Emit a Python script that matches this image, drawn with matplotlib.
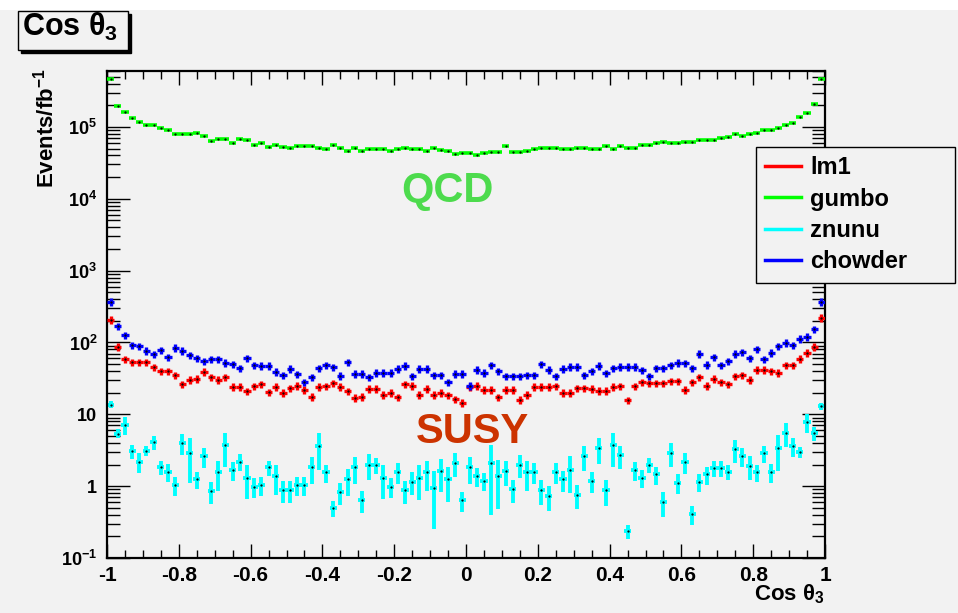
#!/usr/bin/env python3
"""Cos theta_3 distribution, ROOT-style log histogram (QCD vs SUSY samples)."""
import numpy as np
import matplotlib
matplotlib.use("Agg")
import matplotlib.pyplot as plt
from matplotlib.lines import Line2D
from matplotlib.patches import Rectangle
from matplotlib.ticker import MultipleLocator, FixedLocator, FixedFormatter, LogLocator, NullFormatter

# 100 bins on [-1, 1]
N_BINS = 100
X_MIN, X_MAX = -1.0, 1.0

gumbo = [4.6e5, 1.96e5, 1.61e5, 1.34e5, 1.16e5, 1.05e5, 1.05e5, 9.5e4, 9.0e4, 7.9e4,
         7.9e4, 7.9e4, 8.3e4, 7.45e4, 6.4e4, 6.8e4, 6.8e4, 5.9e4, 6.8e4, 6.55e4,
         5.6e4, 6.0e4, 5.3e4, 5.6e4, 5.3e4, 5.06e4, 5.35e4, 5.35e4, 5.35e4, 5.06e4,
         4.85e4, 5.6e4, 5.06e4, 4.55e4, 5.06e4, 4.65e4, 4.85e4, 4.85e4, 4.85e4, 4.65e4,
         4.85e4, 5.1e4, 4.9e4, 4.9e4, 4.65e4, 5.1e4, 4.75e4, 4.55e4, 4.2e4, 4.35e4,
         4.35e4, 4.0e4, 4.27e4, 4.45e4, 4.45e4, 5.4e4, 4.45e4, 4.45e4, 4.65e4, 4.85e4,
         5.1e4, 5.1e4, 5.1e4, 4.85e4, 4.85e4, 5.1e4, 5.1e4, 4.85e4, 4.85e4, 5.4e4,
         4.85e4, 5.4e4, 5.1e4, 5.1e4, 5.6e4, 5.6e4, 5.9e4, 6.2e4, 5.9e4, 5.9e4,
         6.2e4, 6.2e4, 6.55e4, 6.55e4, 6.55e4, 7.0e4, 7.3e4, 7.9e4, 7.45e4, 7.9e4,
         8.3e4, 9.0e4, 9.0e4, 9.6e4, 1.05e5, 1.12e5, 1.39e5, 1.55e5, 2.09e5, 4.6e5]

lm1 = [206, 87, 58, 53, 53, 53, 45, 40, 40, 35,
       26, 30, 31, 39, 33, 30, 33, 24, 24, 21,
       24.5, 26, 20.4, 24, 19.8, 23, 25, 22, 17.4, 24,
       24.5, 27, 24, 21, 16.9, 17.4, 22.7, 22.7, 18.7, 19.8,
       17.2, 26, 25, 18.7, 22.7, 18.7, 20, 18.4, 16.3, 14.4,
       24, 25, 22, 22, 17.2, 22, 22, 16, 18.7, 24,
       24, 24, 24.5, 19.8, 19.8, 23, 23, 22.7, 21.3, 21.3,
       24, 24.5, 15.6, 24.5, 28, 27, 27, 27, 29, 29,
       22, 28, 33, 25, 31, 28, 26, 34, 35, 30,
       42, 42, 40, 37.7, 48, 48, 59, 72, 87, 221]

chowder = [371, 167, 125, 92, 88, 77, 68, 78, 62.5, 84,
           77, 66, 60, 55, 58, 58, 52, 50, 44, 60,
           48, 47, 47, 39, 35, 43, 36, 28, 33, 44,
           48, 45, 34.5, 53, 36.5, 36.5, 33, 37.7, 37.7, 37.7,
           43, 47, 34, 43, 43, 35, 35, 28, 36.5, 36.5,
           25, 42, 37.7, 48, 40, 34, 34, 34, 35, 35,
           50, 42, 34, 43, 46, 46, 35, 40, 47, 37,
           44, 46, 46, 46, 41, 34, 44, 44, 48, 52,
           51, 44, 69.5, 49, 62.5, 48, 55, 69.5, 73, 60,
           80, 58, 72, 89, 99, 91, 113, 120, 152, 371]

znunu = [13.6, 5.4, 7.1, 3.1, 2.2, 3.1, 4.1, 1.83, 1.59, 1.03,
         4.0, 2.9, 1.24, 2.6, 0.85, 1.55, 3.7, 1.67, 2.2, 1.31,
         0.98, 1.03, 1.83, 1.38, 0.88, 0.88, 1.03, 1.03, 1.83, 3.6,
         1.55, 0.50, 0.82, 1.24, 1.83, 0.64, 2.0, 2.0, 1.31, 0.98,
         1.59, 0.88, 1.15, 1.31, 1.55, 0.93, 1.62, 1.24, 2.1, 0.64,
         1.83, 1.38, 1.19, 2.1, 1.38, 1.62, 0.90, 2.0, 1.55, 1.59,
         0.88, 0.72, 1.59, 1.24, 1.7, 0.76, 2.6, 1.19, 3.4, 0.88,
         3.7, 2.7, 0.235, 1.67, 1.31, 2.0, 1.46, 0.60, 2.9, 1.12,
         2.2, 0.41, 1.15, 1.46, 1.8, 1.8, 1.59, 3.25, 2.6, 1.93,
         1.55, 2.9, 1.55, 3.4, 5.5, 3.6, 3.0, 7.8, 5.5, 13.0]

znunu_err = [1.5, 0.75, 2.0, 0.7, 0.69, 0.49, 0.9, 0.41, 0.43, 0.30,
             1.25, 1.8, 0.32, 0.79, 0.29, 0.69, 1.87, 0.49, 0.6, 0.65,
             0.30, 0.30, 0.44, 0.62, 0.30, 0.30, 0.30, 0.30, 0.75, 1.9,
             0.44, 0.13, 0.28, 0.5, 0.75, 0.22, 0.78, 0.5, 0.65, 0.3,
             0.53, 0.31, 0.4, 0.67, 0.68, 0.68, 0.8, 0.63, 0.75, 0.2,
             0.75, 0.4, 0.33, 1.7, 0.9, 0.62, 0.32, 0.71, 0.68, 0.52,
             0.34, 0.27, 0.53, 0.41, 0.89, 0.28, 0.98, 0.39, 1.35, 0.35,
             1.87, 0.94, 0.05, 0.49, 0.38, 0.47, 0.41, 0.23, 1.04, 0.35,
             0.73, 0.12, 0.32, 0.41, 0.45, 0.45, 0.38, 1.18, 0.76, 0.71,
             0.42, 0.77, 0.46, 1.8, 2.0, 1.06, 0.53, 2.3, 1.2, 1.5]

REL_ERR = 0.12          # red / blue bars are short, roughly +-12%

Y_TICKS = [0.1, 1, 10, 100, 1e3, 1e4, 1e5]
Y_LABELS = ["10$^{-1}$", "1", "10", "10$^{2}$", "10$^{3}$", "10$^{4}$", "10$^{5}$"]
X_TICKS = [-1, -0.8, -0.6, -0.4, -0.2, 0, 0.2, 0.4, 0.6, 0.8, 1]
X_LABELS = ["-1", "-0.8", "-0.6", "-0.4", "-0.2", "0", "0.2", "0.4", "0.6", "0.8", "1"]

BG = "#f2f2f2"
plt.rcParams.update({
    "font.family": ["Liberation Sans", "DejaVu Sans"],
    "font.weight": "bold",
    "mathtext.fontset": "custom",
    "mathtext.rm": "Liberation Sans:bold",
    "mathtext.bf": "Liberation Sans:bold",
    "mathtext.it": "Liberation Sans:bold",
    "mathtext.default": "bf",
    "axes.unicode_minus": False,
})

edges = np.linspace(X_MIN, X_MAX, N_BINS + 1)
centers = 0.5 * (edges[:-1] + edges[1:])
half = 0.5 * (edges[1] - edges[0])

fig = plt.figure(figsize=(9.58, 6.13), dpi=100, facecolor=BG)
ax = fig.add_axes([0.1117, 0.0897, 0.7495, 0.7945])
ax.set_facecolor(BG)

# white strip at the very top (slide header cut off)
fig.patches.append(Rectangle((0, 603 / 613), 1, 10 / 613, transform=fig.transFigure,
                             facecolor="white", edgecolor="none", zorder=0))


def hist(vals, color, yerr=None, lw=1.8, z=3):
    ax.errorbar(centers, vals, xerr=half, yerr=yerr, fmt=".", ms=1.2,
                mfc="k", mec="k", ecolor=color, elinewidth=lw, capsize=0, zorder=z)


g = np.array(gumbo)
hist(g, "#00ff00", lw=2.6)

z = np.array(znunu)
ze = np.array(znunu_err)
hist(z, "#00ffff", yerr=[np.minimum(ze, z * 0.95), ze], lw=2.8, z=2)

r = np.array(lm1)
hist(r, "#ff0000", yerr=r * REL_ERR, lw=2.4)
b = np.array(chowder)
hist(b, "#0000ff", yerr=b * REL_ERR, lw=2.4, z=4)

ax.set_xlim(X_MIN, X_MAX)
ax.set_yscale("log")
ax.set_ylim(0.1, 6e5)

ax.xaxis.set_major_locator(FixedLocator(X_TICKS))
ax.xaxis.set_major_formatter(FixedFormatter(X_LABELS))
ax.xaxis.set_minor_locator(MultipleLocator(0.05))
ax.yaxis.set_major_locator(FixedLocator(Y_TICKS))
ax.yaxis.set_major_formatter(FixedFormatter(Y_LABELS))
ax.yaxis.set_minor_locator(LogLocator(base=10, subs=np.arange(2, 10), numticks=20))
ax.yaxis.set_minor_formatter(NullFormatter())

ax.tick_params(which="both", direction="in", top=True, right=True, width=1.0)
ax.tick_params(axis="x", which="major", length=10, labelsize=15, pad=6)
ax.tick_params(axis="x", which="minor", length=5.5)
ax.tick_params(axis="y", which="major", length=16.5, labelsize=13, pad=7)
ax.tick_params(axis="y", which="minor", length=9.5)
for s in ax.spines.values():
    s.set_linewidth(1.6)

fig.text(46 / 958, 1 - 68 / 613, "Events/fb$^{-1}$", rotation=90, ha="center",
         va="top", fontsize=16)
fig.text(825 / 958, 1 - 594 / 613, "Cos θ$_3$", ha="right", va="center", fontsize=16)

# title box with ROOT-like shadow
fig.patches.append(Rectangle((21 / 958, 1 - 53 / 613), 110 / 958, 39 / 613,
                             transform=fig.transFigure, facecolor="black",
                             edgecolor="black", zorder=5))
fig.patches.append(Rectangle((18 / 958, 1 - 50 / 613), 110 / 958, 39 / 613,
                             transform=fig.transFigure, facecolor=BG,
                             edgecolor="black", lw=1.0, zorder=6))
fig.text(22 / 958, 1 - 36 / 613, "Cos θ$_3$", ha="left", va="baseline",
         fontsize=22, zorder=7)

ax.text(-0.053, 1.3e4, "QCD", color="#4ddb4d", fontsize=30, ha="center", va="center")
ax.text(0.018, 5.6, "SUSY", color="#cc3300", fontsize=30, ha="center", va="center")

handles = [Line2D([], [], color=c, lw=2.5) for c in ("#ff0000", "#00ff00", "#00ffff", "#0000ff")]
leg = ax.legend(handles, ["lm1", "gumbo", "znunu", "chowder"],
                loc="upper left",
                bbox_to_anchor=(756 / 958, 1 - 277 / 613, 199 / 958, 130 / 613),
                bbox_transform=fig.transFigure, mode="expand", borderaxespad=0,
                prop={"size": 17, "weight": "bold"}, handlelength=1.5, handletextpad=0.4,
                labelspacing=0.35, borderpad=0.4, fancybox=False, framealpha=1,
                facecolor=BG, edgecolor="black")
leg.get_frame().set_linewidth(1.0)
leg.set_zorder(10)

fig.savefig("out.png", dpi=100, facecolor=BG)
